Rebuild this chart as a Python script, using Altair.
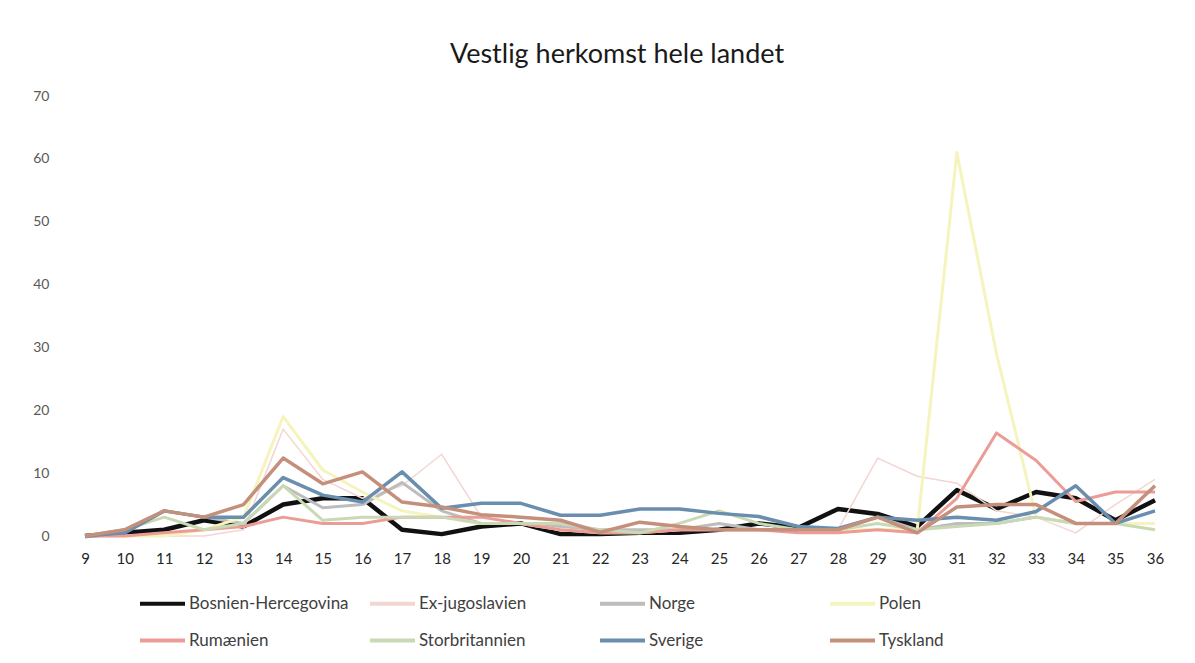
import altair as alt
import pandas as pd

weeks = list(range(9, 37))

series_names = ["Bosnien-Hercegovina", "Ex-jugoslavien", "Norge", "Polen",
                "Rumænien", "Storbritannien", "Sverige", "Tyskland"]
series_colors = ["#111111", "#f3d6d2", "#bdbdbd", "#f6f4bd",
                 "#ec9c96", "#c9d9b4", "#6a8eae", "#c48f7b"]
series_widths = [4.5, 1.5, 3, 3, 3, 3, 3.5, 3.5]

bosnien = [0, 0.5, 1, 2.5, 1.5, 5, 6, 6, 1, 0.3, 1.5, 2, 0.3, 0.3, 0.5, 0.5, 1, 2, 1.3, 4.3, 3.5, 1.5, 7.3, 4.3, 7, 6, 2.5, 5.7]
exjugo  = [0, 0, 0, 0, 1, 17, 9, 6, 8, 13, 3, 2, 1, 1, 1, 1, 1, 1, 1, 1, 12.4, 9.5, 8.4, 4, 3, 0.5, 5, 9]
norge   = [0, 1, 4, 3, 2, 8, 4.5, 5, 8.5, 4, 2, 2, 1.5, 1, 1, 1, 2, 1, 1, 1, 3, 1, 2, 2, 3, 2, 2, 2]
polen   = [0, 0, 0, 1, 3, 19, 10.5, 7, 4, 3, 2, 2, 1, 0.5, 0.5, 1, 1, 1, 1, 1, 1, 1, 61, 29, 3, 2, 2, 2]
rumaen  = [0, 0, 0.5, 1, 1.5, 3, 2, 2, 3, 3, 3, 2, 1, 0.5, 0.5, 1, 1, 1, 0.5, 0.5, 1, 0.5, 6, 16.4, 12, 5.5, 7, 7]
storbr  = [0, 1, 3, 1, 2, 8, 2.5, 3, 3, 3, 2, 2, 2, 1, 0.5, 2, 4, 2, 1, 1, 2, 1, 1.5, 2, 3, 2, 2, 1]
sverige = [0, 0.5, 4, 3, 3, 9.3, 6.5, 5.4, 10.2, 4.4, 5.2, 5.2, 3.3, 3.3, 4.3, 4.3, 3.6, 3.1, 1.5, 1.2, 3, 2.5, 3, 2.5, 3.9, 8, 2, 4]
tysk    = [0, 1, 4, 3, 5, 12.4, 8.3, 10.2, 5.4, 4.6, 3.4, 3, 2.5, 0.6, 2.2, 1.5, 1, 1, 1, 1, 3, 0.5, 4.6, 5, 5, 2, 2, 8]

values = [bosnien, exjugo, norge, polen, rumaen, storbr, sverige, tysk]

rows = []
for name, vals in zip(series_names, values):
    for w, v in zip(weeks, vals):
        rows.append({"uge": w, "antal": v, "serie": name})
df = pd.DataFrame(rows)

FONT = "Lato"

lines = []
for i, name in enumerate(series_names):
    sub = df[df["serie"] == name]
    lines.append(
        alt.Chart(sub).mark_line(strokeWidth=series_widths[i], strokeJoin="round").encode(
            x=alt.X("uge:Q",
                    scale=alt.Scale(domain=[9, 36], nice=False, zero=False),
                    axis=alt.Axis(values=weeks, title=None, grid=False, domain=False,
                                  ticks=False, labelFontSize=15, labelColor="#262626",
                                  labelFont=FONT, labelPadding=15, labelFlush=False)),
            y=alt.Y("antal:Q",
                    scale=alt.Scale(domain=[0, 70], nice=False),
                    axis=alt.Axis(values=list(range(0, 71, 10)), title=None, grid=False,
                                  domain=False, ticks=False, labelFontSize=14,
                                  labelColor="#595959", labelFont=FONT, labelPadding=36)),
            color=alt.Color("serie:N",
                            scale=alt.Scale(domain=series_names, range=series_colors),
                            sort=series_names,
                            legend=alt.Legend(title=None, orient="none", legendX=53, legendY=483,
                                              columns=4, direction="horizontal",
                                              symbolType="stroke", symbolSize=2025,
                                              symbolStrokeWidth=4, labelFontSize=17,
                                              labelFont=FONT, labelColor="#404040",
                                              labelOffset=2, columnPadding=13, rowPadding=4,
                                              gridAlign="all", labelLimit=300)),
        )
    )

chart = alt.layer(*lines).properties(
    width=1070, height=440,
    background="white",
    title=alt.TitleParams("Vestlig herkomst hele landet", fontSize=27, font=FONT,
                          fontWeight="normal", color="#1a1a1a", offset=20, dx=-3),
    autosize=alt.AutoSizeParams(type="none"),
    padding={"left": 77, "top": 88, "right": 32, "bottom": 119},
).configure_view(strokeWidth=0)

chart.save("out.html", embed_options={"renderer": "svg", "actions": False})
